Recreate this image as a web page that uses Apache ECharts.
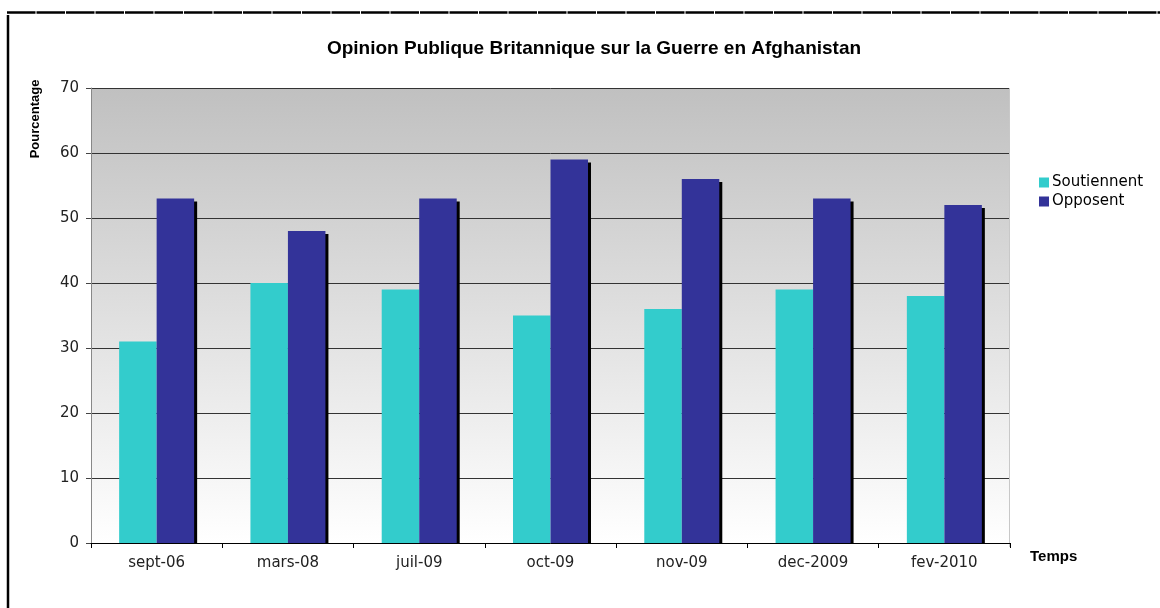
<!DOCTYPE html>
<html><head><meta charset="utf-8">
<script src="https://cdn.jsdelivr.net/npm/echarts@6/dist/echarts.min.js"></script>
<style>html,body{margin:0;padding:0;background:#fff}#c{width:1160px;height:608px}</style>
</head><body><div id="c"></div>
<script>
const categories = ['sept-06','mars-08','juil-09','oct-09','nov-09','dec-2009','fev-2010'];
const soutiennent = [31, 40, 39, 35, 36, 39, 38];
const opposent = [53, 48, 53, 59, 56, 53, 52];
const yTicks = {min: 0, max: 70, interval: 10};

const chart = echarts.init(document.getElementById('c'), null, {renderer: 'canvas'});
const lblFont = '"DejaVu Sans", Verdana, sans-serif';
const boldFont = '"Liberation Sans", Arial, sans-serif';
chart.setOption({
  animation: false,
  backgroundColor: '#fff',
  title: {
    text: 'Opinion Publique Britannique sur la Guerre en Afghanistan',
    left: 589, top: 34, textAlign: 'center',
    textStyle: {fontFamily: boldFont, fontWeight: 'bold', fontSize: 19, color: '#000'}
  },
  legend: {
    orient: 'vertical', left: 1039, top: 175, itemWidth: 10, itemHeight: 10, itemGap: 4, padding: 0,
    icon: 'rect',
    textStyle: {fontFamily: lblFont, fontSize: 15, color: '#000', padding: [0,0,0,-2]},
    data: ['Soutiennent', 'Opposent']
  },
  grid: {left: 91, right: 150, top: 88, bottom: 65, show: true, borderWidth: 0,
    backgroundColor: new echarts.graphic.LinearGradient(0, 0, 0, 1, [
      {offset: 0, color: '#c0c0c0'}, {offset: 1, color: '#ffffff'}])},
  xAxis: {
    type: 'category', data: categories, z: 10,
    name: 'Temps', nameLocation: 'end', nameGap: 20,
    nameTextStyle: {fontFamily: boldFont, fontWeight: 'bold', fontSize: 15, color: '#000', verticalAlign: 'top', padding: [6, 0, 0, 0]},
    axisLine: {lineStyle: {color: '#000', width: 1}},
    axisTick: {show: true, length: 5, lineStyle: {color: '#000'}},
    axisLabel: {fontFamily: lblFont, fontSize: 15, color: '#222', margin: 13}
  },
  yAxis: {
    type: 'value', min: yTicks.min, max: yTicks.max, interval: yTicks.interval,
    axisLine: {show: true, lineStyle: {color: '#888', width: 1}},
    axisTick: {show: true, length: 5, lineStyle: {color: '#444'}},
    axisLabel: {fontFamily: lblFont, fontSize: 15, color: '#222', margin: 12},
    splitLine: {lineStyle: {color: '#333', width: 1}}
  },
  series: [
    {name: 'Soutiennent', type: 'bar', data: soutiennent, barWidth: 37.5, barGap: '0%',
     itemStyle: {color: '#33cccc'}},
    {name: 'Opposent', type: 'bar', data: opposent, barWidth: 37.5, barGap: '0%',
     itemStyle: {color: '#333399', shadowColor: '#000', shadowBlur: 0, shadowOffsetX: 3, shadowOffsetY: 3}}
  ],
  graphic: [
    {type: 'rect', z: 5, shape: {x: 92, y: 543.5, width: 917, height: 5}, style: {fill: '#fff'}},
    {type: 'line', shape: {x1: 7, y1: 12.5, x2: 1160, y2: 12.5}, style: {stroke: '#000', lineWidth: 2.5, lineDash: [28.5, 1]}},
    {type: 'line', shape: {x1: 8, y1: 15, x2: 8, y2: 608}, style: {stroke: '#000', lineWidth: 2.5}},
    {type: 'line', z: 6, shape: {x1: 1009.5, y1: 88, x2: 1009.5, y2: 547}, style: {stroke: '#c8c8c8', lineWidth: 1}},
    {type: 'text', x: 35, y: 119, rotation: Math.PI / 2,
     style: {text: 'Pourcentage', fontFamily: boldFont, fontWeight: 'bold', fontSize: 13, fill: '#000', align: 'center', verticalAlign: 'middle'}}
  ]
});
</script></body></html>
